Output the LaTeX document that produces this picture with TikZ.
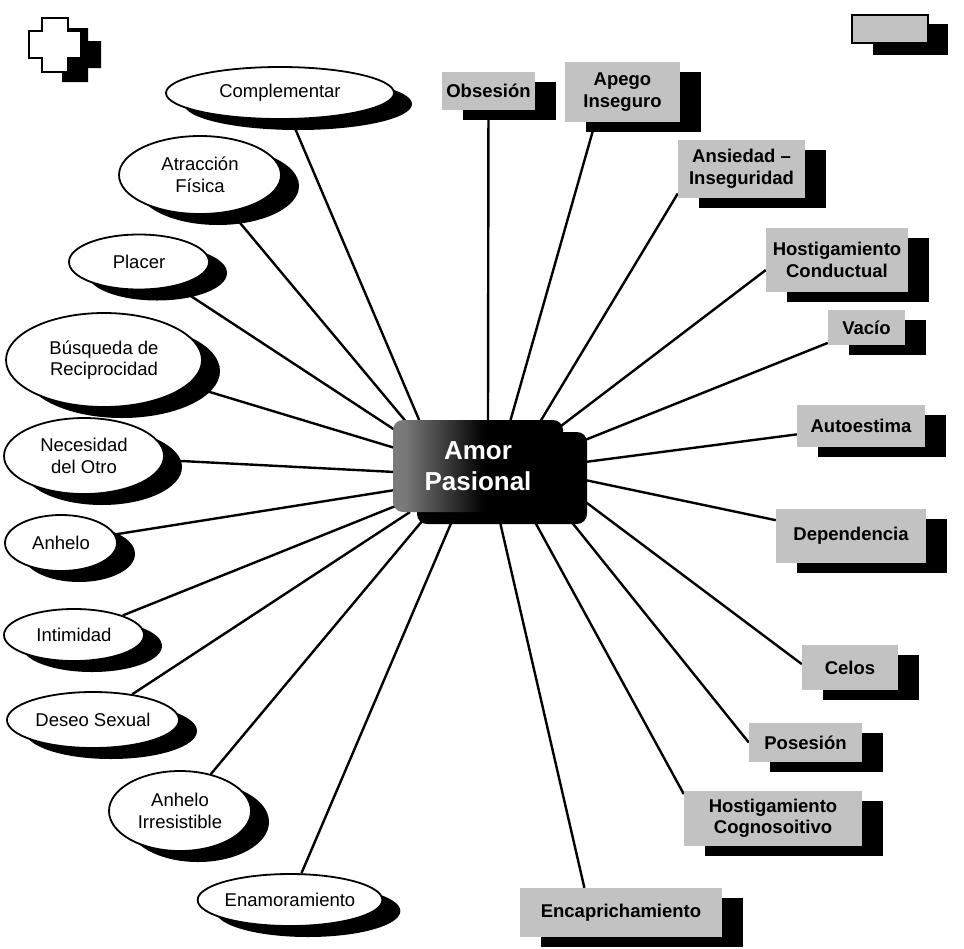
\documentclass[tikz,border=0pt]{standalone}
\usepackage{fontspec}
\setmainfont{Liberation Sans}
\usetikzlibrary{shapes.geometric,shadows,backgrounds}
\definecolor{boxgray}{gray}{0.76}
\pgfdeclarehorizontalshading{amorsh}{100bp}{color(0bp)=(black!52); color(28bp)=(black!52); color(52bp)=(black); color(100bp)=(black)}
\newcommand\lblfont{\fontsize{18.5}{21.5}\selectfont}
\begin{document}
\begin{tikzpicture}[x=1pt,y=-1pt,
  ell/.style={ellipse, draw=black, line width=1.8pt, fill=white, inner sep=0pt, align=center, font=\lblfont,
    drop shadow={shadow xshift=18pt, shadow yshift=-11pt, fill=black, opacity=1}},
  gbox/.style={rectangle, fill=boxgray, inner sep=0pt, align=center, font=\lblfont\bfseries,
    drop shadow={shadow xshift=21pt, shadow yshift=-10pt, fill=black, opacity=1}},
  amorbox/.style={rectangle, rounded corners=10pt, shade, shading=amorsh, text=white, align=center,
    inner sep=0pt, font=\fontsize{26}{31}\selectfont\bfseries,
    drop shadow={shadow xshift=24pt, shadow yshift=-12pt, fill=black, opacity=1}},
  conn/.style={line width=2.4pt, black}]
\useasboundingbox (0,0) rectangle (964,948);

% icons
\fill[black] (62,28) -- (88,28) -- (88,41) -- (101,41) -- (101,68) -- (88,68) -- (88,82) -- (62,82) -- (62,68) -- (49,68) -- (49,41) -- (62,41) -- cycle;
\draw[fill=white, line width=1.8pt] (42,18) -- (68,18) -- (68,31) -- (81,31) -- (81,58) -- (68,58) -- (68,72) -- (42,72) -- (42,58) -- (29,58) -- (29,31) -- (42,31) -- cycle;
\fill[black] (873,24) rectangle (948,55);
\draw[fill=boxgray, line width=1.5pt] (852,15) rectangle (928,43);

% centre
\node[amorbox, minimum width=170pt, minimum height=92pt] (amor) at (478,466) {Amor\\Pasional};

% ellipses
\node[ell, minimum width=228pt, minimum height=52pt] (e1) at (280,93) {Complementar};
\node[ell, minimum width=162pt, minimum height=78pt] (e2) at (200,175) {Atracción\\Física};
\node[ell, minimum width=140pt, minimum height=55pt] (e3) at (139,262) {Placer};
\node[ell, minimum width=196pt, minimum height=94pt] (e4) at (104,360) {Búsqueda de\\Reciprocidad};
\node[ell, minimum width=160pt, minimum height=76pt] (e5) at (84,456) {Necesidad\\del Otro};
\node[ell, minimum width=112pt, minimum height=56pt] (e6) at (61,543) {Anhelo};
\node[ell, minimum width=140pt, minimum height=52pt] (e7) at (74,635) {Intimidad};
\node[ell, minimum width=172pt, minimum height=56pt] (e8) at (93,720) {Deseo Sexual};
\node[ell, minimum width=142pt, minimum height=80pt] (e9) at (180,811) {Anhelo\\Irresistible};
\node[ell, minimum width=184pt, minimum height=52pt] (e10) at (290,900) {Enamoramiento};

% boxes
\node[gbox, minimum width=93pt, minimum height=38pt] (b1) at (488.5,91) {Obsesión};
\node[gbox, minimum width=115pt, minimum height=60pt] (b2) at (622.5,92) {Apego\\Inseguro};
\node[gbox, minimum width=127pt, minimum height=58pt] (b3) at (741.5,169) {Ansiedad –\\Inseguridad};
\node[gbox, minimum width=142pt, minimum height=64pt] (b4) at (837,260) {Hostigamiento\\Conductual};
\node[gbox, minimum width=77pt, minimum height=35pt] (b5) at (866.5,327.5) {Vacío};
\node[gbox, minimum width=128pt, minimum height=42pt] (b6) at (861,426) {Autoestima};
\node[gbox, minimum width=150pt, minimum height=54pt] (b7) at (851,536) {Dependencia};
\node[gbox, minimum width=96pt, minimum height=45pt] (b8) at (850,667.5) {Celos};
\node[gbox, minimum width=113pt, minimum height=39pt] (b9) at (805.5,742.5) {Posesión};
\node[gbox, minimum width=178pt, minimum height=55pt] (b10) at (773,818) {Hostigamiento\\Cognosoitivo};
\node[gbox, minimum width=202pt, minimum height=49pt] (b11) at (621,912.5) {Encaprichamiento};

% connector start points on the centre box
\coordinate (s1) at (420,422);
\coordinate (s2) at (408,424);
\coordinate (s3) at (398,432);
\coordinate (s4) at (395,448);
\coordinate (s5) at (395,472);
\coordinate (s6) at (395,490);
\coordinate (s7) at (398,505);
\coordinate (s8) at (410,512);
\coordinate (s9) at (428,514);
\coordinate (s10) at (455,514);
\coordinate (s11) at (488,422);
\coordinate (s12) at (510,422);
\coordinate (s13) at (540,422);
\coordinate (s14) at (561,426);
\coordinate (s15) at (585,440);
\coordinate (s16) at (585,462);
\coordinate (s17) at (585,480);
\coordinate (s18) at (583,500);
\coordinate (s19) at (570,520);
\coordinate (s20) at (535,522);
\coordinate (s21) at (500,522);

\begin{scope}[on background layer]
\fill[white] (0,0) rectangle (964,948);
\draw[conn] (s1) -- (e1);
\draw[conn] (s2) -- (e2);
\draw[conn] (s3) -- (e3);
\draw[conn] (s4) -- (e4);
\draw[conn] (s5) -- (e5);
\draw[conn] (s6) -- (e6);
\draw[conn] (s7) -- (e7);
\draw[conn] (s8) -- (e8);
\draw[conn] (s9) -- (e9);
\draw[conn] (s10) -- (e10);
\draw[conn] (s11) -- (b1);
\draw[conn] (s12) -- (b2.228);
\draw[conn] (s13) -- (b3.201);
\draw[conn] (s14) -- (b4.188);
\draw[conn] (s15) -- (b5);
\draw[conn] (s16) -- (b6);
\draw[conn] (s17) -- (b7);
\draw[conn] (s18) -- (b8.176);
\draw[conn] (s19) -- (b9.west);
\draw[conn] (s20) -- (b10.165);
\draw[conn] (s21) -- (b11.146);
\end{scope}
\end{tikzpicture}
\end{document}
